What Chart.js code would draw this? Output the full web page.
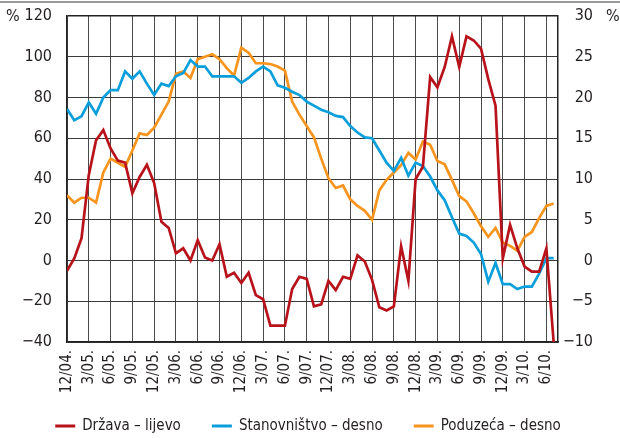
<!DOCTYPE html>
<html>
<head>
<meta charset="utf-8">
<script src="https://cdn.jsdelivr.net/npm/chart.js@4"></script>
<style>
  html, body { margin: 0; padding: 0; background: #fff; }
  #wrap { width: 620px; height: 438px; position: relative; }
</style>
</head>
<body>
<div id="wrap"><canvas id="chart"></canvas></div>
<script>
// quarter tick labels, data is monthly from 12/04 to 7/10
const quarterLabels = ['12/04.', '3/05.', '6/05.', '9/05.', '12/05.', '3/06.', '6/06.', '9/06.',
    '12/06.', '3/07.', '6/07.', '9/07.', '12/07.', '3/08.', '6/08.', '9/08.', '12/08.', '3/09.',
    '6/09.', '9/09.', '12/09.', '3/10.', '6/10.'];

// Država – lijevo (left axis, %)
const drzava = [-5, 1, 11, 42, 59, 64, 55, 49, 48, 33, 41, 47,
    38, 19, 16, 3.5, 6, 0, 10, 1.5, 0, 8, -8, -6,
    -11, -6, -17, -19, -32, -32, -32, -14, -8, -9, -22.5, -21.5,
    -10, -14.5, -8, -9, 2.5, -0.5, -9.5, -23, -24.5, -22.5, 7, -10,
    40, 46, 90, 85, 95, 110, 95, 110, 108, 104, 89, 76,
    1, 17.5, 6, -3, -5.5, -5.5, 6, -40];

// Stanovništvo – desno (right axis, %)
const stanovnistvo = [18.6, 17.2, 17.7, 19.4, 18, 20, 20.9, 20.9, 23.2, 22.3, 23.2, 21.7,
    20.3, 21.7, 21.4, 22.6, 23, 24.6, 23.8, 23.8, 22.6, 22.6, 22.6, 22.6,
    21.8, 22.4, 23.2, 23.8, 23.2, 21.5, 21.2, 20.7, 20.3, 19.5, 19.0, 18.5,
    18.2, 17.75, 17.6, 16.5, 15.7, 15.1, 15.0, 13.5, 12.0, 11, 12.6, 10.4,
    12, 11.6, 10.3, 8.6, 7.4, 5.3, 3.3, 3, 2.2, 0.8, -2.6, -0.3,
    -2.9, -2.9, -3.5, -3.2, -3.2, -1.6, 0.3, 0.3];

// Poduzeća – desno (right axis, %)
const poduzeca = [8, 7.1, 7.7, 7.7, 7.1, 10.8, 12.5, 12, 11.5, 13.5, 15.6, 15.4,
    16.3, 17.9, 19.5, 22.9, 23.2, 22.4, 24.7, 25, 25.3, 24.7, 23.6, 22.7,
    26.1, 25.5, 24.2, 24.2, 24.1, 23.8, 23.3, 19.5, 17.9, 16.5, 15.1, 12.5,
    10.1, 8.9, 9.2, 7.5, 6.7, 6.1, 5.0, 8.6, 9.9, 10.8, 11.7, 13.2,
    12.4, 14.6, 14.2, 12.2, 11.8, 9.9, 7.9, 7.25, 5.8, 4.2, 2.9, 4,
    2.2, 1.8, 1.2, 2.9, 3.5, 5.2, 6.7, 7];

const seriesLabels = ['Država – lijevo', 'Stanovništvo – desno', 'Poduzeća – desno'];
const colors = ['#B8131B', '#0A9FDB', '#F7941D'];

const FONT = '"Liberation Sans Narrow", "Arial Narrow", "DejaVu Sans Condensed", sans-serif';
const TEXT = '#231F20';

Chart.defaults.font.family = FONT;
Chart.defaults.font.size = 16;
Chart.defaults.color = TEXT;

const toPoints = (arr) => arr.map((v, i) => ({ x: i, y: v }));
const minus = (v) => String(v).replace('-', '\u2212');

const extras = {
    id: 'extras',
    afterDraw(chart) {
        const ctx = chart.ctx;
        const area = chart.chartArea;
        ctx.save();
        // grey rule at top of the figure
        ctx.fillStyle = '#9a9a9a';
        ctx.fillRect(0, 1, chart.width, 2);

        ctx.font = '16px ' + FONT;
        ctx.fillStyle = TEXT;
        ctx.textBaseline = 'middle';
        ctx.textAlign = 'left';
        ctx.fillText('%', 6, area.top + 1);
        ctx.fillText('%', 606, area.top + 1);

        // legend
        ctx.font = '15px ' + FONT;
        const markW = 20, gap = 7, itemGap = 31;
        const widths = seriesLabels.map((t) => markW + gap + ctx.measureText(t).width);
        const total = widths.reduce((a, b) => a + b, 0) + itemGap * (widths.length - 1);
        let x = 308 - total / 2;
        const y = 426;
        seriesLabels.forEach((t, i) => {
            ctx.fillStyle = colors[i];
            ctx.fillRect(x, y - 1.5, markW, 3);
            ctx.fillStyle = TEXT;
            ctx.fillText(t, x + markW + gap, y);
            x += widths[i] + itemGap;
        });
        ctx.restore();
    }
};

// drop the label overhang padding so the plot top sits where the layout padding says
const fixY = (w) => (axis) => {
    axis.width = w;
    axis.paddingTop = 0;
    axis.paddingBottom = 0;
};

new Chart(document.getElementById('chart'), {
    type: 'line',
    data: {
        datasets: [
            { label: seriesLabels[0], data: toPoints(drzava), yAxisID: 'y', borderColor: colors[0] },
            { label: seriesLabels[1], data: toPoints(stanovnistvo), yAxisID: 'y1', borderColor: colors[1] },
            { label: seriesLabels[2], data: toPoints(poduzeca), yAxisID: 'y1', borderColor: colors[2] },
        ],
    },
    options: {
        responsive: true,
        maintainAspectRatio: false,
        animation: false,
        devicePixelRatio: 1,
        layout: { padding: { top: 16, right: 27, bottom: 46, left: 0 } },
        elements: {
            line: { borderWidth: 2.7, tension: 0, borderJoinStyle: 'miter' },
            point: { radius: 0 },
        },
        plugins: {
            legend: { display: false },
            tooltip: { enabled: false },
        },
        scales: {
            x: {
                type: 'linear',
                min: 0,
                max: 67.6,
                afterBuildTicks: (axis) => {
                    axis.ticks = quarterLabels.map((_, i) => ({ value: i * 3 }));
                },
                afterFit: (axis) => {
                    axis.height = 50;
                    axis.paddingLeft = 0;
                    axis.paddingRight = 0;
                },
                ticks: {
                    autoSkip: false,
                    minRotation: 90,
                    maxRotation: 90,
                    padding: 8,
                    font: { size: 15 },
                    callback: (v) => quarterLabels[Math.round(v / 3)],
                },
                grid: { color: '#4a4a4a', lineWidth: 1, drawTicks: false },
                border: { display: true, color: '#222', width: 1.5 },
            },
            y: {
                position: 'left',
                min: -40,
                max: 120,
                afterFit: fixY(67),
                ticks: { stepSize: 20, padding: 15, callback: (v) => minus(v) },
                grid: {
                    color: (c) => (c.tick && c.tick.value === 120 ? '#222' : '#3a3a3a'),
                    lineWidth: (c) => (c.tick && c.tick.value === 120 ? 1.6 : 1),
                    drawTicks: false,
                },
                border: { display: true, color: '#222', width: 1.5 },
            },
            y1: {
                position: 'right',
                min: -10,
                max: 30,
                afterFit: fixY(35),
                ticks: { stepSize: 5, padding: 10, crossAlign: 'far', callback: (v) => minus(v) },
                grid: { drawOnChartArea: false, drawTicks: false },
                border: { display: true, color: '#222', width: 1.5 },
            },
        },
    },
    plugins: [extras],
});
</script>
</body>
</html>
